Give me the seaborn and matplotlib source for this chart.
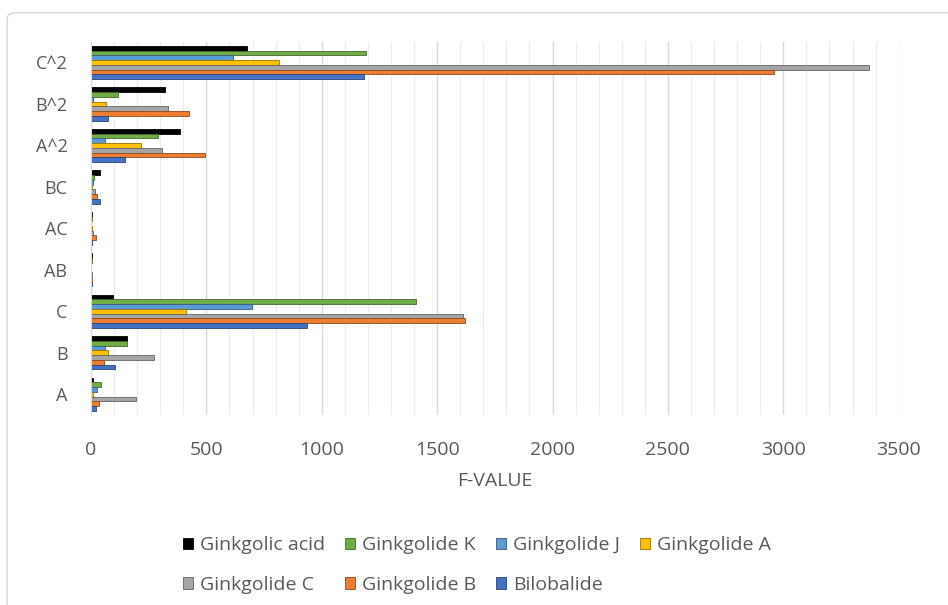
import numpy as np
import pandas as pd
import matplotlib
matplotlib.use("Agg")
import matplotlib.pyplot as plt
import seaborn as sns
from matplotlib.patches import FancyBboxPatch
from matplotlib.ticker import MultipleLocator
import matplotlib.colors as mcolors

categories = ["C^2", "B^2", "A^2", "BC", "AC", "AB", "C", "B", "A"]
series = ["Ginkgolic acid", "Ginkgolide K", "Ginkgolide J", "Ginkgolide A",
          "Ginkgolide C", "Ginkgolide B", "Bilobalide"]
ginkgolic_acid = [677, 320, 385, 39, 3, 4, 97, 154, 10]
ginkgolide_k   = [1193, 118, 291, 14, 6, 3, 1410, 154, 42]
ginkgolide_j   = [616, 10, 61, 10, 2, 2, 698, 61, 25]
ginkgolide_a   = [815, 65, 216, 6, 3, 2, 410, 75, 10]
ginkgolide_c   = [3370, 332, 309, 17, 8, 4, 1612, 273, 193]
ginkgolide_b   = [2961, 426, 495, 25, 22, 6, 1622, 58, 35]
bilobalide     = [1183, 72, 147, 39, 4, 3, 938, 104, 22]
colors = ["#000000", "#70AD47", "#5B9BD5", "#FFC000", "#A5A5A5", "#ED7D31", "#4472C4"]

values = [ginkgolic_acid, ginkgolide_k, ginkgolide_j, ginkgolide_a,
          ginkgolide_c, ginkgolide_b, bilobalide]
rows = []
for s, vals in zip(series, values):
    for c, v in zip(categories, vals):
        rows.append({"Factor": c, "Compound": s, "F": v})
df = pd.DataFrame(rows)

sns.set_style("white")
plt.rcParams['font.family'] = ['Open Sans', 'DejaVu Sans']

fig = plt.figure(figsize=(9.48, 6.05), dpi=100)
ax = fig.add_axes([0.096, 0.314, 0.852, 0.617])

sns.barplot(data=df, y="Factor", x="F", hue="Compound", order=categories,
            hue_order=series, palette=colors, saturation=1, orient="h", width=0.8,
            ax=ax, legend=True)

for patch in ax.patches:
    fc = patch.get_facecolor()
    dark = tuple(np.array(mcolors.to_rgb(fc)) * 0.6)
    patch.set_edgecolor(dark)
    patch.set_linewidth(0.6)

ax.set_xlim(0, 3500)
ax.xaxis.set_major_locator(MultipleLocator(500))
ax.xaxis.set_minor_locator(MultipleLocator(100))
ax.grid(axis="x", which="major", color="#D9D9D9", linewidth=1.0, zorder=0)
ax.grid(axis="x", which="minor", color="#EDEDED", linewidth=0.9, zorder=0)
ax.set_axisbelow(True)
for side in ["top", "right", "bottom"]:
    ax.spines[side].set_visible(False)
ax.spines["left"].set_color("#D9D9D9")
ax.tick_params(axis="both", which="both", length=0, labelcolor="#595959")
ax.tick_params(axis="y", labelsize=13, pad=17)
ax.tick_params(axis="x", labelsize=14, pad=19)
ax.set_ylabel("")
ax.set_xlabel("F-VALUE", fontsize=14, color="#595959", labelpad=9)

handles, labels = ax.get_legend_handles_labels()
ax.get_legend().remove()
order = [0, 4, 1, 5, 2, 6, 3]
fig.legend([handles[i] for i in order], [labels[i] for i in order],
           loc="center", bbox_to_anchor=(0.503, 0.066), ncol=4, frameon=False,
           fontsize=14, labelcolor="#595959", handlelength=0.55, handleheight=0.55,
           handletextpad=0.35, columnspacing=1.0, labelspacing=1.1)

border = FancyBboxPatch((0.0075, -0.05), 1.05, 1.029, boxstyle="round,pad=0,rounding_size=0.01",
                        transform=fig.transFigure, fill=False, edgecolor="#D9D9D9", linewidth=1.0)
fig.patches.append(border)

fig.savefig("out.png", dpi=100, facecolor="white")
